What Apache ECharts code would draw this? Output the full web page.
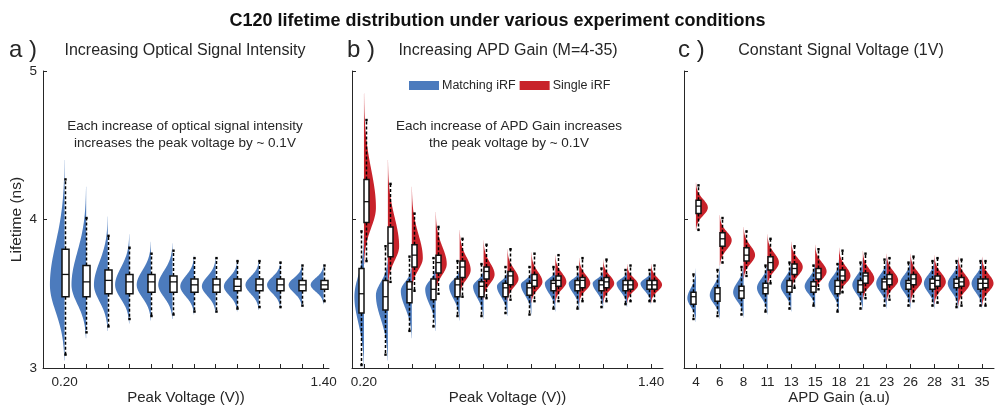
<!DOCTYPE html>
<html><head><meta charset="utf-8">
<script src="https://cdn.jsdelivr.net/npm/echarts@6/dist/echarts.min.js"></script>
<style>html,body{margin:0;padding:0;background:#fff}#chart{width:995px;height:406px}</style>
</head><body><div id="chart"></div>
<script>
// ---------------- DATA ----------------
const voltageCategories = ['0.20','0.30','0.40','0.50','0.60','0.70','0.80','0.90','1.00','1.10','1.20','1.30','1.40'];
const gainCategories = ['4','6','8','11','13','15','18','21','23','26','28','31','35'];
const yTicks = [3, 4, 5];

// box statistics: [whiskerLow, q1, median, q3, whiskerHigh]
// violin extents: [tailLow, mode, tailHigh]; peak = relative violin peak density
// a) Increasing optical signal intensity (Matching iRF)
const aMatchBox = [
  [3.09,3.48,3.63,3.80,4.27],[3.24,3.48,3.58,3.69,4.01],[3.28,3.50,3.59,3.66,3.89],
  [3.33,3.50,3.58,3.63,3.81],[3.35,3.51,3.58,3.63,3.77],[3.36,3.51,3.58,3.62,3.79],
  [3.38,3.51,3.56,3.60,3.74],[3.38,3.51,3.56,3.60,3.74],[3.40,3.52,3.55,3.60,3.72],
  [3.41,3.52,3.56,3.60,3.72],[3.41,3.52,3.56,3.60,3.71],[3.42,3.52,3.56,3.59,3.69],
  [3.45,3.53,3.56,3.59,3.69]];
const aMatchViolin = [
  [3.05,3.56,4.40],[3.20,3.56,4.22],[3.25,3.56,4.02],[3.30,3.56,3.90],[3.32,3.56,3.85],
  [3.33,3.56,3.84],[3.36,3.55,3.76],[3.37,3.55,3.75],[3.38,3.55,3.73],[3.39,3.56,3.73],
  [3.40,3.56,3.72],[3.41,3.56,3.70],[3.43,3.56,3.70]];
const aMatchPeak = [0.68,0.68,0.64,0.66,0.66,0.66,0.64,0.64,0.62,0.62,0.62,0.62,0.6];

// b) Increasing APD gain
const bMatchBox = [
  [3.02,3.37,3.50,3.67,3.92],[3.09,3.39,3.48,3.59,3.82],[3.25,3.44,3.53,3.58,3.75],
  [3.28,3.46,3.53,3.60,3.74],[3.35,3.48,3.56,3.60,3.72],[3.35,3.48,3.55,3.58,3.70],
  [3.37,3.48,3.54,3.57,3.68],[3.36,3.49,3.54,3.57,3.68],[3.40,3.52,3.57,3.59,3.68],
  [3.40,3.52,3.56,3.59,3.68],[3.41,3.52,3.56,3.59,3.67],[3.43,3.52,3.56,3.59,3.66],
  [3.45,3.53,3.56,3.59,3.66]];
const bMatchViolin = [
  [3.00,3.48,3.90],[3.05,3.49,3.75],[3.20,3.52,3.70],[3.25,3.53,3.70],[3.32,3.55,3.68],
  [3.33,3.55,3.67],[3.35,3.55,3.66],[3.36,3.56,3.66],[3.38,3.57,3.67],[3.39,3.57,3.66],
  [3.40,3.57,3.66],[3.41,3.57,3.66],[3.43,3.57,3.66]];
const bMatchPeak = [0.40,0.50,0.46,0.44,0.44,0.44,0.44,0.44,0.44,0.44,0.44,0.44,0.44];
const bSingleBox = [
  [3.72,3.98,4.12,4.27,4.67],[3.58,3.75,3.84,3.95,4.24],[3.52,3.68,3.76,3.83,4.04],
  [3.50,3.64,3.71,3.76,3.95],[3.48,3.61,3.68,3.72,3.87],[3.47,3.60,3.65,3.68,3.83],
  [3.46,3.56,3.62,3.65,3.80],[3.45,3.55,3.59,3.63,3.77],[3.45,3.55,3.59,3.62,3.76],
  [3.45,3.54,3.59,3.61,3.74],[3.45,3.54,3.58,3.61,3.73],[3.45,3.53,3.56,3.59,3.69],
  [3.45,3.53,3.56,3.59,3.69]];
const bSingleViolin = [
  [3.70,4.08,4.85],[3.55,3.82,4.40],[3.52,3.74,4.22],[3.50,3.70,4.05],[3.48,3.66,3.93],
  [3.46,3.63,3.86],[3.45,3.60,3.80],[3.44,3.58,3.78],[3.44,3.58,3.76],[3.44,3.57,3.74],
  [3.44,3.57,3.73],[3.44,3.56,3.70],[3.44,3.56,3.70]];
const bSinglePeak = [0.50,0.47,0.46,0.46,0.46,0.46,0.46,0.46,0.46,0.46,0.46,0.46,0.46];

// c) Constant signal voltage (1V)
const cMatchBox = [
  [3.33,3.43,3.48,3.51,3.63],[3.35,3.45,3.50,3.54,3.66],[3.36,3.47,3.52,3.55,3.68],
  [3.38,3.50,3.54,3.57,3.69],[3.40,3.51,3.55,3.59,3.71],[3.42,3.51,3.55,3.58,3.69],
  [3.38,3.50,3.55,3.59,3.70],[3.40,3.51,3.56,3.59,3.71],[3.42,3.53,3.58,3.60,3.73],
  [3.42,3.53,3.57,3.59,3.71],[3.42,3.53,3.57,3.60,3.72],[3.41,3.54,3.57,3.60,3.72],
  [3.42,3.53,3.57,3.60,3.72]];
const cMatchViolin = [
  [3.31,3.47,3.67],[3.33,3.49,3.69],[3.34,3.51,3.71],[3.36,3.54,3.72],[3.38,3.55,3.73],
  [3.40,3.55,3.72],[3.37,3.56,3.73],[3.39,3.56,3.74],[3.40,3.57,3.75],[3.40,3.57,3.74],
  [3.40,3.57,3.74],[3.40,3.57,3.74],[3.40,3.57,3.74]];
const cMatchPeak = [0.36,0.42,0.44,0.44,0.44,0.44,0.44,0.44,0.44,0.44,0.44,0.44,0.44];
const cSingleBox = [
  [3.93,4.04,4.09,4.13,4.23],[3.71,3.82,3.87,3.91,4.01],[3.62,3.72,3.76,3.81,3.92],
  [3.57,3.66,3.71,3.75,3.87],[3.54,3.63,3.67,3.70,3.82],[3.53,3.60,3.64,3.67,3.80],
  [3.51,3.59,3.62,3.66,3.79],[3.47,3.57,3.62,3.64,3.77],[3.46,3.56,3.60,3.63,3.74],
  [3.45,3.56,3.60,3.63,3.75],[3.44,3.55,3.59,3.62,3.74],[3.42,3.55,3.58,3.61,3.73],
  [3.42,3.54,3.57,3.60,3.72]];
const cSingleViolin = [
  [3.93,4.08,4.25],[3.69,3.86,4.03],[3.60,3.76,3.95],[3.55,3.71,3.90],[3.52,3.68,3.85],
  [3.50,3.65,3.83],[3.48,3.62,3.81],[3.46,3.60,3.79],[3.45,3.59,3.77],[3.44,3.59,3.77],
  [3.43,3.58,3.76],[3.42,3.57,3.75],[3.42,3.57,3.75]];
const cSinglePeak = [0.50,0.50,0.48,0.48,0.48,0.48,0.48,0.48,0.48,0.48,0.48,0.48,0.48];

// ---------------- STYLE ----------------
const FONT = '"Liberation Sans", Arial, Helvetica, sans-serif';
const INK = '#262626';
const BLUE = '#4c7bbd';
const RED = '#c8222a';

function violinSeries(name, color, ai, violins, peaks, side) {
  return {
    type: 'custom', name: name, coordinateSystem: 'cartesian2d',
    xAxisIndex: ai, yAxisIndex: ai, z: 2, silent: true,
    itemStyle: { color: color },
    data: violins.map((v, i) => [i, v[0], v[1], v[2], peaks[i]]),
    encode: { x: 0, y: [1, 2, 3] },
    renderItem: function (params, api) {
      const i = api.value(0), lo = api.value(1), mo = api.value(2), hi = api.value(3), pk = api.value(4);
      const step = api.size([1, 0])[0];
      const cx = api.coord([i, mo])[0];
      const sL = (mo - lo) / 2.8, sU = (hi - mo) / 3.0;
      const pts = [[cx, api.coord([i, lo])[1]]];
      const N = 90;
      for (let k = 0; k <= N; k++) {
        const v = lo + (hi - lo) * k / N;
        const d = v < mo ? (mo - v) / sL : (v - mo) / sU;
        const f = Math.exp(-0.5 * d * d);
        pts.push([cx + side * pk * step * f, api.coord([i, v])[1]]);
      }
      pts.push([cx, api.coord([i, hi])[1]]);
      return { type: 'polygon', shape: { points: pts }, style: { fill: color } };
    }
  };
}

function boxSeries(name, ai, boxes, offset, width) {
  return {
    type: 'custom', name: name, coordinateSystem: 'cartesian2d',
    xAxisIndex: ai, yAxisIndex: ai, z: 5, silent: true,
    data: boxes.map((b, i) => [i, b[0], b[1], b[2], b[3], b[4]]),
    encode: { x: 0, y: [1, 2, 3, 4, 5] },
    renderItem: function (params, api) {
      const i = api.value(0);
      const cx = Math.round(api.coord([i, 4])[0] + offset) + 0.5;
      const y = k => api.coord([i, api.value(k)])[1];
      const yLo = y(1), yQ1 = y(2), yMed = y(3), yQ3 = y(4), yHi = y(5);
      const hw = width / 2;
      const dash = { stroke: '#000', lineWidth: 1.5, lineDash: [3, 2] };
      return {
        type: 'group', children: [
          { type: 'line', shape: { x1: cx, y1: yQ3, x2: cx, y2: yHi }, style: dash },
          { type: 'line', shape: { x1: cx, y1: yQ1, x2: cx, y2: yLo }, style: dash },
          { type: 'rect', shape: { x: cx - 1.2, y: yHi - 1.2, width: 2.4, height: 2.4 }, style: { fill: '#000' } },
          { type: 'rect', shape: { x: cx - 1.2, y: yLo - 1.2, width: 2.4, height: 2.4 }, style: { fill: '#000' } },
          { type: 'rect', shape: { x: cx - hw, y: yQ3, width: width, height: yQ1 - yQ3 },
            style: { fill: '#fff', stroke: '#111', lineWidth: 1.5 } },
          { type: 'line', shape: { x1: cx - hw, y1: yMed, x2: cx + hw, y2: yMed },
            style: { stroke: '#111', lineWidth: 1.3 } }
        ]
      };
    }
  };
}

const tickIdx = voltageCategories.map((_, i) => i);

function xAxis(gi, min, max, labels, labelIdx, name) {
  return {
    type: 'value', gridIndex: gi, min: min, max: max, name: name,
    nameLocation: 'middle', nameGap: 22, nameMoveOverlap: false,
    nameTextStyle: { fontSize: 15, color: INK, fontFamily: FONT },
    splitLine: { show: false },
    axisLine: { onZero: false, lineStyle: { color: INK, width: 1 } },
    axisTick: { inside: true, length: 4, customValues: tickIdx, lineStyle: { color: INK } },
    axisLabel: { customValues: labelIdx, formatter: v => labels[Math.round(v)] || '',
      fontSize: 13.5, color: INK, fontFamily: FONT, margin: 7 }
  };
}
function yAxis(gi, showLabel) {
  return {
    type: 'value', gridIndex: gi, min: yTicks[0], max: yTicks[yTicks.length - 1], interval: 1,
    name: showLabel ? 'Lifetime (ns)' : '', nameLocation: 'middle', nameGap: 18, nameRotate: 90,
    nameMoveOverlap: false,
    nameTextStyle: { fontSize: 15.5, color: INK, fontFamily: FONT },
    splitLine: { show: false },
    axisLine: { show: true, onZero: false, lineStyle: { color: INK, width: 1 } },
    axisTick: { show: true, inside: true, length: 4, lineStyle: { color: INK } },
    axisLabel: { show: showLabel, fontSize: 13.5, color: INK, fontFamily: FONT, margin: 6 }
  };
}

const lastIdx = voltageCategories.length - 1;

const option = {
  backgroundColor: '#fff',
  animation: false,
  textStyle: { fontFamily: FONT },
  title: {
    text: 'C120 lifetime distribution under various experiment conditions',
    left: 'center', top: 7,
    textStyle: { fontSize: 18, fontWeight: 'bold', color: '#111', fontFamily: FONT }
  },
  legend: {
    data: ['Matching iRF', 'Single iRF'], left: 409, top: 79, padding: 0,
    itemWidth: 30, itemHeight: 9, itemGap: 4, icon: 'rect', selectedMode: false,
    textStyle: { fontSize: 12.5, color: INK, fontFamily: FONT, padding: [0, 0, 0, -2] }
  },
  grid: [
    { left: 43, top: 71, width: 286, height: 297, containLabel: false, outerBoundsMode: 'none' },
    { left: 352, top: 71, width: 311, height: 297, containLabel: false, outerBoundsMode: 'none' },
    { left: 684, top: 71, width: 310, height: 297, containLabel: false, outerBoundsMode: 'none' }
  ],
  xAxis: [
    xAxis(0, -1, 12.25, voltageCategories, [0, lastIdx], 'Peak Voltage (V))'),
    xAxis(1, -0.5, 12.5, voltageCategories, [0, lastIdx], 'Peak Voltage (V))'),
    xAxis(2, -0.5, 12.5, gainCategories, tickIdx, 'APD Gain (a.u)')
  ],
  yAxis: [yAxis(0, true), yAxis(1, false), yAxis(2, false)],
  graphic: [
    { type: 'text', left: 9, top: 38, style: { text: 'a )', fill: INK, font: '24px ' + FONT } },
    { type: 'text', left: 347, top: 38, style: { text: 'b )', fill: INK, font: '24px ' + FONT } },
    { type: 'text', left: 678, top: 38, style: { text: 'c )', fill: INK, font: '24px ' + FONT } },
    { type: 'text', x: 185, y: 51, style: { text: 'Increasing Optical Signal Intensity', fill: INK, font: '16px ' + FONT, textAlign: 'center', textVerticalAlign: 'middle' } },
    { type: 'text', x: 508, y: 51, style: { text: 'Increasing APD Gain (M=4-35)', fill: INK, font: '16px ' + FONT, textAlign: 'center', textVerticalAlign: 'middle' } },
    { type: 'text', x: 841, y: 51, style: { text: 'Constant Signal Voltage (1V)', fill: INK, font: '16px ' + FONT, textAlign: 'center', textVerticalAlign: 'middle' } },
    { type: 'text', x: 185, y: 135, style: { text: 'Each increase of optical signal intensity\nincreases the peak voltage by ~ 0.1V', fill: INK, font: '13.5px ' + FONT, textAlign: 'center', textVerticalAlign: 'middle', lineHeight: 17 } },
    { type: 'text', x: 509, y: 135, style: { text: 'Each increase of APD Gain increases\nthe peak voltage by ~ 0.1V', fill: INK, font: '13.5px ' + FONT, textAlign: 'center', textVerticalAlign: 'middle', lineHeight: 17 } }
  ],
  series: [
    violinSeries('Matching iRF', BLUE, 0, aMatchViolin, aMatchPeak, -1),
    violinSeries('Matching iRF', BLUE, 1, bMatchViolin, bMatchPeak, -1),
    violinSeries('Single iRF', RED, 1, bSingleViolin, bSinglePeak, 1),
    violinSeries('Matching iRF', BLUE, 2, cMatchViolin, cMatchPeak, -1),
    violinSeries('Single iRF', RED, 2, cSingleViolin, cSinglePeak, 1),
    boxSeries('a-box', 0, aMatchBox, 0, 7),
    boxSeries('b-box-m', 1, bMatchBox, -2.5, 5),
    boxSeries('b-box-s', 1, bSingleBox, 2.5, 5),
    boxSeries('c-box-m', 2, cMatchBox, -2.5, 5),
    boxSeries('c-box-s', 2, cSingleBox, 2.5, 5)
  ]
};

const chart = echarts.init(document.getElementById('chart'), null, { renderer: 'canvas' });
chart.setOption(option);
</script>
</body></html>
